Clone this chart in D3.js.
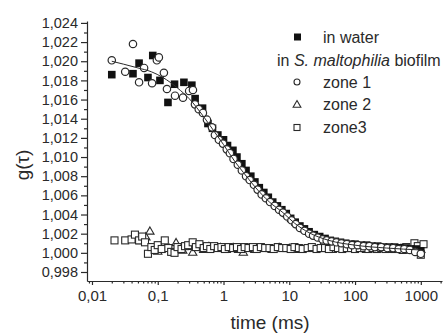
<!DOCTYPE html>
<html><head><meta charset="utf-8">
<script src="https://cdn.jsdelivr.net/npm/d3@7"></script>
<style>html,body{margin:0;padding:0;background:#fff;}svg{display:block;font-family:"Liberation Sans",Arial,sans-serif;}</style>
</head><body>
<svg id="c" width="447" height="334"></svg>
<script>
// ---- data ----
const waterX = [0.020,0.042,0.052,0.071,0.084,0.108,0.143,0.18,0.25,0.33,0.37,0.48,0.58,0.68,0.82,1.0,1.15,1.39,1.6,1.9,2.2,2.6,3.0,3.5,4.1,4.8,5.6,6.6,7.7,9.0,10.5,12.3,14.5,17,20,24,29,35,42,50,60,72,86,100,125,150,180,220,270,330,400,480,580,700,850,1000];
const waterY = [1.0186,1.0187,1.0198,1.0183,1.0206,1.0180,1.0157,1.0176,1.0178,1.0175,1.0161,1.0151,1.0135,1.0130,1.0123,1.0118,1.0112,1.0107,1.0100,1.0093,1.0086,1.0080,1.0074,1.0068,1.0063,1.0058,1.0053,1.0049,1.0045,1.0041,1.0036,1.0032,1.0028,1.0025,1.0022,1.0019,1.0017,1.0015,1.0013,1.0012,1.0011,1.0010,1.0009,1.0009,1.0008,1.0008,1.0007,1.0007,1.0006,1.0006,1.0006,1.0005,1.0005,1.0004,1.0004,1.0002];

const zone1X = [0.020,0.032,0.042,0.052,0.062,0.082,0.097,0.104,0.124,0.138,0.183,0.242,0.30,0.343,0.368,0.42,0.486,0.56,0.667,0.74,0.85,0.98,1.12,1.25,1.42,1.65,1.9,2.2,2.5,2.9,3.3,3.8,4.4,5.1,6.0,7.0,8.0,9.3,10.8,12.5,14.5,17,20,23,27,32,37,44,52,62,75,90,110,135,165,200,250,310,380,460,560,680,820,1000];
const zone1Y = [1.0201,1.0189,1.0218,1.0178,1.0193,1.0177,1.0201,1.0204,1.0188,1.0171,1.0164,1.0162,1.0169,1.0170,1.0155,1.0150,1.0146,1.0139,1.0131,1.0123,1.0118,1.0114,1.0108,1.0104,1.0098,1.0092,1.0086,1.0080,1.0076,1.0071,1.0066,1.0061,1.0057,1.0053,1.0049,1.0045,1.0042,1.0038,1.0034,1.0030,1.0026,1.0023,1.0020,1.0018,1.0016,1.0014,1.0013,1.0012,1.0011,1.0010,1.0009,1.0008,1.0008,1.0007,1.0007,1.0006,1.0006,1.0005,1.0005,1.0004,1.0004,1.0003,1.0001,0.9999];

const zone1FitX = [0.02,0.03,0.05,0.08,0.12,0.2,0.3,0.5,0.7,1,1.5,2,3,5,8,12,20,40,100,300,1000];
const zone1FitY = [1.0200,1.0197,1.0193,1.0189,1.0183,1.0172,1.0161,1.0142,1.0128,1.0113,1.0095,1.0084,1.0069,1.0053,1.0042,1.0031,1.0021,1.0013,1.0008,1.0005,1.0003];

const zone2X = [0.055,0.066,0.076,0.085,0.10,0.12,0.15,0.19,0.24,0.30,0.34,0.40,0.50,0.60,0.75,0.90,1.1,1.4,1.7,2.0,2.5,3.0,4.0,5.5,7,10,14,20,30,45,70,100,150,220,330,500,700,1000];
const zone2Y = [1.0012,1.0016,1.0022,1.0004,1.0001,1.0007,1.0004,1.0010,1.0002,1.0006,1.0000,1.0005,1.0003,1.0006,1.0004,1.0005,1.0003,1.0005,1.0003,1.0000,1.0004,1.0003,1.0004,1.0003,1.0005,1.0004,1.0003,1.0004,1.0005,1.0003,1.0004,1.0004,1.0003,1.0004,1.0003,1.0004,1.0002,1.0003];

const zone3X = [0.022,0.032,0.040,0.045,0.052,0.058,0.064,0.071,0.080,0.090,0.10,0.115,0.128,0.145,0.16,0.18,0.20,0.23,0.26,0.29,0.34,0.38,0.43,0.50,0.56,0.63,0.72,0.82,0.93,1.05,1.2,1.4,1.6,1.85,2.1,2.4,2.8,3.2,3.7,4.3,5.0,5.8,6.7,7.8,9.0,10.5,12,14,16,19,22,26,30,35,40,47,55,64,75,87,100,118,138,160,185,215,250,290,340,400,460,530,600,700,800,900,1000,1100];
const zone3Y = [1.0013,1.0013,1.0014,1.0019,1.0013,1.0017,1.0011,0.9999,1.0006,1.0003,1.0008,1.0004,1.0013,1.0005,1.0001,1.0000,1.0006,1.0004,1.0007,1.0008,1.0011,1.0006,1.0009,1.0005,1.0007,1.0004,1.0007,1.0005,1.0006,1.0004,1.0006,1.0005,1.0006,1.0004,1.0006,1.0005,1.0006,1.0004,1.0006,1.0005,1.0005,1.0004,1.0006,1.0005,1.0005,1.0004,1.0006,1.0005,1.0004,1.0005,1.0006,1.0004,1.0005,1.0005,1.0004,1.0006,1.0005,1.0004,1.0005,1.0005,1.0004,1.0005,1.0005,1.0004,1.0005,1.0004,1.0005,1.0004,1.0005,1.0004,1.0005,1.0003,1.0006,1.0004,1.0010,1.0007,0.9998,1.0009];

const xMajorTicks = [0.01,0.1,1,10,100,1000];
const xTickLabels = ["0,01","0,1","1","10","100","1000"];
const yMajorTicks = [0.998,1.000,1.002,1.004,1.006,1.008,1.010,1.012,1.014,1.016,1.018,1.020,1.022,1.024];

// ---- drawing ----
const svg = d3.select("#c");
const ink = "#2a2a2a";
const x = d3.scaleLog().domain([0.0084, 2100]).range([87, 442]);
const y = d3.scaleLinear().domain([0.99706, 1.0242]).range([281, 21]);

// y axis
const yMinor = d3.range(0.997, 1.0245, 0.001).map(v => +v.toFixed(3)).filter(v => v >= 0.99706 && v <= 1.0242 && !yMajorTicks.some(m => Math.abs(m - v) < 1e-6));
const yAx = svg.append("g").attr("transform", "translate(87,0)");
yAx.call(d3.axisLeft(y).tickValues(yMajorTicks).tickFormat(d => d3.format(".3f")(d).replace(".", ",")).tickSize(6).tickSizeOuter(0));
yAx.append("g").call(d3.axisLeft(y).tickValues(yMinor).tickFormat("").tickSize(3).tickSizeOuter(0)).select(".domain").remove();
yAx.selectAll("text").attr("font-size", 14.5).attr("fill", ink).attr("x", -9).attr("font-family", "Liberation Sans, Arial, sans-serif");
yAx.selectAll("line,path").attr("stroke", ink).attr("stroke-width", 1.2);

// x axis
const xMinor = [];
for (let e = -3; e <= 3; e++) for (let k = 2; k <= 9; k++) { const v = k * Math.pow(10, e); if (v >= 0.0084 && v <= 2100) xMinor.push(v); }
const xAx = svg.append("g").attr("transform", "translate(0,281)");
xAx.call(d3.axisBottom(x).tickValues(xMajorTicks).tickFormat((d, i) => xTickLabels[i]).tickSize(4).tickSizeOuter(0));
xAx.append("g").call(d3.axisBottom(x).tickValues(xMinor).tickFormat("").tickSize(2.5).tickSizeOuter(0)).select(".domain").remove();
xAx.selectAll("text").attr("font-size", 15).attr("fill", ink).attr("y", 9).attr("font-family", "Liberation Sans, Arial, sans-serif");
xAx.selectAll("line,path").attr("stroke", ink).attr("stroke-width", 1.2);

// axis titles
svg.append("text").attr("x", 270).attr("y", 329).attr("text-anchor", "middle").attr("font-size", 19).attr("fill", ink).text("time (ms)");
svg.append("text").attr("transform", "translate(29,165) rotate(-90)").attr("text-anchor", "middle").attr("font-size", 19).attr("fill", ink).text("g(τ)");

const pts = (xs, ys) => xs.map((v, i) => [v, ys[i]]);
const plot = svg.append("g");

// zone2 triangles
const tri = d3.symbol().type(d3.symbolTriangle).size(30);
plot.append("g").selectAll("path").data(pts(zone2X, zone2Y)).join("path")
  .attr("d", tri).attr("transform", d => `translate(${x(d[0])},${y(d[1])})`)
  .attr("fill", "white").attr("stroke", ink).attr("stroke-width", 1.1);
// zone3 open squares
plot.append("g").selectAll("rect").data(pts(zone3X, zone3Y)).join("rect")
  .attr("x", d => x(d[0]) - 3.5).attr("y", d => y(d[1]) - 3.5).attr("width", 7).attr("height", 7)
  .attr("fill", "white").attr("stroke", ink).attr("stroke-width", 1.1);
// water filled squares
plot.append("g").selectAll("rect").data(pts(waterX, waterY)).join("rect")
  .attr("x", d => x(d[0]) - 3.8).attr("y", d => y(d[1]) - 3.8).attr("width", 7.6).attr("height", 7.6)
  .attr("fill", "#111");
// zone1 open circles
plot.append("g").selectAll("circle").data(pts(zone1X, zone1Y)).join("circle")
  .attr("cx", d => x(d[0])).attr("cy", d => y(d[1])).attr("r", 3.7)
  .attr("fill", "white").attr("stroke", ink).attr("stroke-width", 1.2);
// fit line
plot.append("path").datum(pts(zone1FitX, zone1FitY))
  .attr("d", d3.line().x(d => x(d[0])).y(d => y(d[1])).curve(d3.curveMonotoneX))
  .attr("fill", "none").attr("stroke", ink).attr("stroke-width", 1);

// legend
const lg = svg.append("g").attr("font-size", 16).attr("fill", ink);
lg.append("rect").attr("x", 294).attr("y", 33.5).attr("width", 7).attr("height", 7).attr("fill", "#111");
lg.append("text").attr("x", 323).attr("y", 43).text("in water");
const t2 = lg.append("text").attr("x", 277).attr("y", 66);
t2.append("tspan").text("in ");
t2.append("tspan").attr("font-style", "italic").text("S. maltophilia");
t2.append("tspan").text(" biofilm");
lg.append("circle").attr("cx", 297).attr("cy", 82).attr("r", 3).attr("fill", "white").attr("stroke", ink).attr("stroke-width", 1.1);
lg.append("text").attr("x", 323).attr("y", 88).text("zone 1");
lg.append("path").attr("d", d3.symbol().type(d3.symbolTriangle).size(26)).attr("transform", "translate(297,105)").attr("fill", "white").attr("stroke", ink).attr("stroke-width", 1.1);
lg.append("text").attr("x", 323).attr("y", 110).text("zone 2");
lg.append("rect").attr("x", 294).attr("y", 124.5).attr("width", 6).attr("height", 6).attr("fill", "white").attr("stroke", ink).attr("stroke-width", 1.1);
lg.append("text").attr("x", 323).attr("y", 133).text("zone3");
</script>
</body></html>
